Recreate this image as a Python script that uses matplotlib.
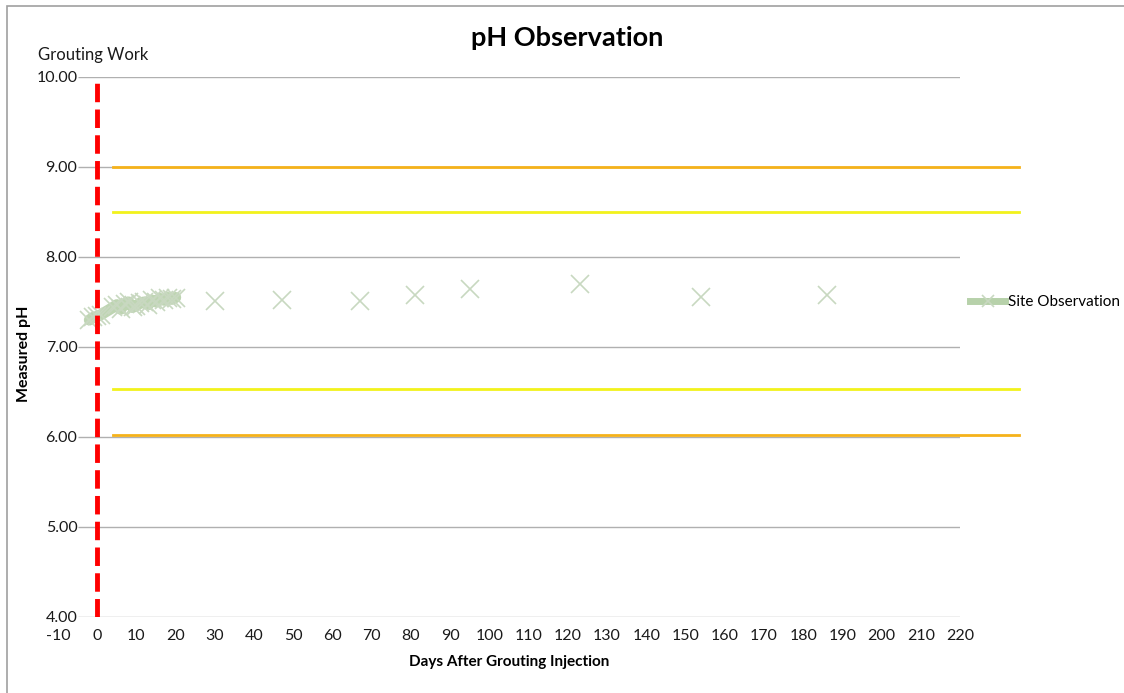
import numpy as np
import matplotlib.pyplot as plt
from matplotlib.lines import Line2D
from matplotlib.patches import Rectangle

plt.rcParams['font.family'] = ['Lato', 'DejaVu Sans']
plt.rcParams['axes.unicode_minus'] = False

# site readings (days after injection, pH)
early_days = [-2, -1, 0, 1, 4, 5, 6, 7, 8, 9, 10, 11, 12, 13, 14, 15, 16, 17, 18, 19, 20]
early_ph = [7.30, 7.33, 7.34, 7.36, 7.44, 7.47, 7.42, 7.48, 7.50, 7.44, 7.46,
            7.49, 7.50, 7.47, 7.52, 7.50, 7.54, 7.52, 7.55, 7.53, 7.55]
late_days = [30, 47, 67, 81, 95, 123, 154, 186]
late_ph = [7.51, 7.52, 7.51, 7.58, 7.65, 7.70, 7.56, 7.58]

# limit lines
upper_limit = 9.0
upper_warn = 8.5
lower_warn = 6.53
lower_limit = 6.02
limit_start, limit_end = 4, 235

xticks = list(range(-10, 221, 10))
yticks = [4, 5, 6, 7, 8, 9, 10]

fig = plt.figure(figsize=(11.24, 6.93), dpi=100)
ax = fig.add_axes([58 / 1124, 1 - 617 / 693, 902 / 1124, 540 / 693])
ax.set_xlim(-10, 220)
ax.set_ylim(4, 10)

# outer chart frame
fig.patches.append(Rectangle((7 / 1124, -0.1), 1.2, 1 - 6 / 693 + 0.1, transform=fig.transFigure,
                             fill=False, edgecolor='#a0a0a0', linewidth=1.2))

for s in ax.spines.values():
    s.set_visible(False)

ax.hlines(yticks, -5, 220, color='#b0b0b0', linewidth=1, zorder=1)

ax.plot([limit_start, limit_end], [upper_limit] * 2, color='#f5b21a', linewidth=2, clip_on=False, zorder=2)
ax.plot([limit_start, limit_end], [lower_limit] * 2, color='#f5b21a', linewidth=2, clip_on=False, zorder=2)
ax.plot([limit_start, limit_end], [upper_warn] * 2, color='#f2f21c', linewidth=2, clip_on=False, zorder=2)
ax.plot([limit_start, limit_end], [lower_warn] * 2, color='#f2f21c', linewidth=2, clip_on=False, zorder=2)

ax.plot(early_days, early_ph, color='#b7d1aa', linewidth=8, alpha=0.9, solid_capstyle='round', zorder=3)
all_days = early_days + late_days
all_ph = early_ph + late_ph
ax.plot(all_days, all_ph, linestyle='none', marker='x', markersize=13, markeredgewidth=1.2,
        color='#c8d8c0', zorder=4)

ax.plot([0, 0], [4, 10], color='#ff0000', linewidth=3.5, dashes=(3.8, 1.5), zorder=5)

ax.set_xticks(xticks)
ax.set_yticks(yticks)
ax.set_yticklabels([f'{v:.2f}' for v in yticks])
ax.tick_params(axis='both', length=0, labelsize=11.5, colors='#1a1a1a')
ax.tick_params(axis='y', pad=-14)
ax.tick_params(axis='x', pad=9)

ax.set_xlabel('Days After Grouting Injection', fontsize=11, fontweight='bold', labelpad=8)
fig.text(24 / 1124, 339 / 693, 'Measured pH', rotation=90, fontsize=11.5, fontweight='bold',
         ha='center', va='center', transform=fig.transFigure)
fig.text(567 / 1124, 1 - 38 / 693, 'pH Observation', fontsize=19.5, fontweight='bold', ha='center', va='center')
fig.text(38 / 1124, 1 - 55 / 693, 'Grouting Work', fontsize=12, ha='left', va='center', color='#1a1a1a')

handle = Line2D([], [], color='#b7d1aa', linewidth=5, marker='x', markersize=9,
                markeredgecolor='#c8d8c0', markeredgewidth=1.2)
fig.legend([handle], ['Site Observation'], loc='center left', bbox_to_anchor=(970 / 1124, 1 - 302 / 693),
           frameon=False, fontsize=11, handlelength=2.3, handletextpad=0.2,
           borderpad=0, borderaxespad=0)

plt.savefig('out.png', dpi=100)
